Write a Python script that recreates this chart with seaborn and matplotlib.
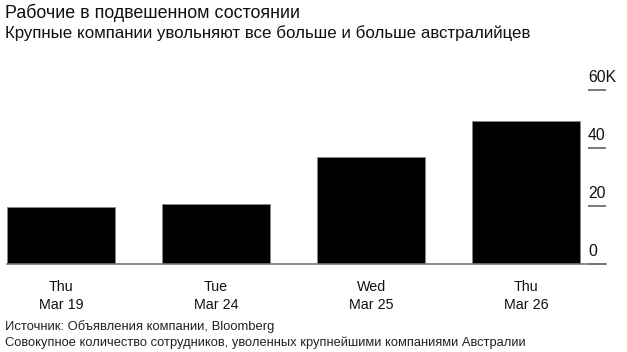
import numpy as np
import pandas as pd
import matplotlib.pyplot as plt
import matplotlib.transforms as mtransforms
import seaborn as sns

# Data (thousands of employees laid off, cumulative)
days = ['Thu\nMar 19', 'Tue\nMar 24', 'Wed\nMar 25', 'Thu\nMar 26']
layoffs = [19.9, 20.7, 36.9, 49.5]
yticks = [0, 20, 40, 60]
ytick_labels = ['0', '20', '40', '60K']

df = pd.DataFrame({'day': days, 'layoffs': layoffs})

sns.set_style('white')
plt.rcParams['font.family'] = ['Liberation Sans', 'DejaVu Sans']

dpi = 100
fig = plt.figure(figsize=(6.27, 3.52), dpi=dpi)
ax = fig.add_axes([7 / 627, 87.7 / 352, 599 / 627, 174 / 352])

sns.barplot(data=df, x='day', y='layoffs', color='black', width=0.7,
            saturation=1, ax=ax, edgecolor='#888888', linewidth=0.6)

ax.set_xlim(-0.35, 3.516)
ax.set_ylim(0, 60)
ax.set_xlabel('')
ax.set_ylabel('')

for s in ['top', 'left', 'right']:
    ax.spines[s].set_visible(False)
ax.spines['bottom'].set_color('#777777')
ax.spines['bottom'].set_linewidth(1.2)

# x ticks
ax.tick_params(axis='x', direction='out', length=3.6, width=1, color='black',
               pad=7.5, labelsize=10.3, labelcolor='#111111')
for lab in ax.get_xticklabels():
    lab.set_linespacing(1.4)

# y ticks on the right, drawn as short lines with labels above them
ax.yaxis.tick_right()
ax.set_yticks(yticks)
ax.set_yticklabels(ytick_labels)
ax.tick_params(axis='y', direction='in', length=13, width=1.1, color='#555555',
               pad=0, labelsize=11.3, labelcolor='#111111')
offset = mtransforms.ScaledTranslation(-18 / dpi, 13 / dpi, fig.dpi_scale_trans)
for lab in ax.get_yticklabels():
    lab.set_transform(lab.get_transform() + offset)
    lab.set_verticalalignment('center')
    lab.set_horizontalalignment('left')

# titles and footer
fig.text(5 / 627, 1 - 13 / 352, 'Рабочие в подвешенном состоянии',
         fontsize=12.9, va='center', ha='left', color='#111111')
fig.text(5 / 627, 1 - 33 / 352, 'Крупные компании увольняют все больше и больше австралийцев',
         fontsize=12.2, va='center', ha='left', color='#111111')
fig.text(5 / 627, 1 - 327 / 352, 'Источник: Объявления компании, Bloomberg',
         fontsize=9.4, va='center', ha='left', color='#222222')
fig.text(5 / 627, 1 - 343 / 352, 'Совокупное количество сотрудников, уволенных крупнейшими компаниями Австралии',
         fontsize=9.3, va='center', ha='left', color='#222222')

fig.savefig('out.png', dpi=dpi)
